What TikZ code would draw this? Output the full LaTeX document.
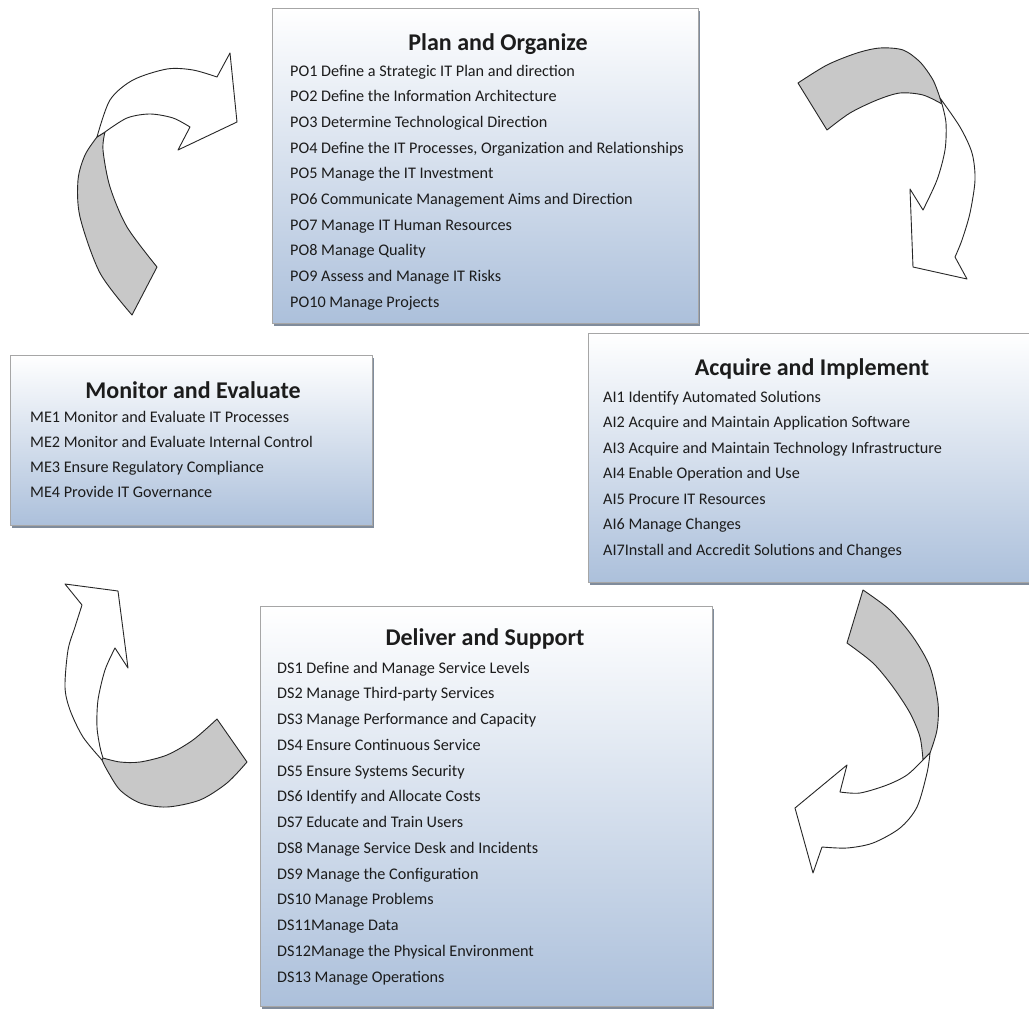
\documentclass[tikz,border=0pt]{standalone}
\usepackage{fontspec}
\setmainfont{Carlito}
\usetikzlibrary{shadows}
\definecolor{boxblue}{RGB}{172,192,219}
\definecolor{shadowc}{RGB}{128,140,156}
\definecolor{arrowgray}{RGB}{200,200,200}
\definecolor{txt}{RGB}{28,28,28}
\begin{document}
\begin{tikzpicture}[x=1pt,y=-1pt,
  box/.style={draw=gray!70, top color=white, bottom color=boxblue, inner sep=0pt, anchor=north west,
    drop shadow={shadow xshift=2pt, shadow yshift=-3pt, fill=shadowc, opacity=1}},
  boxtitle/.style={anchor=base, inner sep=0pt, text=txt, font=\fontsize{24}{28}\selectfont\bfseries},
  item/.style={anchor=base west, inner sep=0pt, text=txt, font=\fontsize{16.2}{19}\selectfont},
  arr/.style={draw=black!85, line width=0.9pt, line join=round},
  back/.style={arr, fill=arrowgray},
  front/.style={arr, fill=white}]
\useasboundingbox (0,0) rectangle (1029,1012);
\fill[white] (0,0) rectangle (1029,1012);

% ---------- boxes ----------
\node[box, minimum width=426pt, minimum height=315pt] (pobox) at (272,8) {};
\node[box, minimum width=443pt, minimum height=249pt] (aibox) at (588,333) {};
\node[box, minimum width=362pt, minimum height=170pt] (mebox) at (10,355) {};
\node[box, minimum width=452pt, minimum height=400pt] (dsbox) at (260,606) {};

% ---------- Plan and Organize ----------
\node[boxtitle] (potitle) at (498,50) {Plan and Organize};
\foreach \t [count=\i] in {
  PO1 Define a Strategic IT Plan and direction,
  PO2 Define the Information Architecture,
  PO3 Determine Technological Direction,
  {PO4 Define the IT Processes, Organization and Relationships},
  PO5 Manage the IT Investment,
  PO6 Communicate Management Aims and Direction,
  PO7 Manage IT Human Resources,
  PO8 Manage Quality,
  PO9 Assess and Manage IT Risks,
  PO10 Manage Projects}
  \node[item] (po\i) at (290,{76+25.67*(\i-1)}) {\t};

% ---------- Acquire and Implement ----------
\node[boxtitle] (aititle) at (812,375) {Acquire and Implement};
\foreach \t [count=\i] in {
  AI1 Identify Automated Solutions,
  AI2 Acquire and Maintain Application Software,
  AI3 Acquire and Maintain Technology Infrastructure,
  AI4 Enable Operation and Use,
  AI5 Procure IT Resources,
  AI6 Manage Changes,
  AI7Install and Accredit Solutions and Changes}
  \node[item] (ai\i) at (603,{402+25.5*(\i-1)}) {\t};

% ---------- Monitor and Evaluate ----------
\node[boxtitle] (metitle) at (193,398) {Monitor and Evaluate};
\foreach \t [count=\i] in {
  ME1 Monitor and Evaluate IT Processes,
  ME2 Monitor and Evaluate Internal Control,
  ME3 Ensure Regulatory Compliance,
  ME4 Provide IT Governance}
  \node[item] (me\i) at (30,{422+25.3*(\i-1)}) {\t};

% ---------- Deliver and Support ----------
\node[boxtitle] (dstitle) at (485,645) {Deliver and Support};
\foreach \t [count=\i] in {
  DS1 Define and Manage Service Levels,
  DS2 Manage Third-party Services,
  DS3 Manage Performance and Capacity,
  DS4 Ensure Continuous Service,
  DS5 Ensure Systems Security,
  DS6 Identify and Allocate Costs,
  DS7 Educate and Train Users,
  DS8 Manage Service Desk and Incidents,
  DS9 Manage the Configuration,
  DS10 Manage Problems,
  DS11Manage Data,
  DS12Manage the Physical Environment,
  DS13 Manage Operations}
  \node[item] (ds\i) at (277,{673+25.75*(\i-1)}) {\t};

% ---------- curved arrows ----------
% top left (Monitor -> Plan)
\draw[back] plot[smooth] coordinates {(132,315) (100,273) (80,217) (78,180) (85,155) (97,137)}
  -- plot[smooth] coordinates {(105,132) (103,150) (110,187) (127,227) (157,267)} -- cycle;
\draw[front] plot[smooth] coordinates {(97,137) (110,100) (133,80) (167,69) (193,70) (217,77)}
  -- (230,53) -- (237,122) -- (178,150) --
  plot[smooth] coordinates {(190,127) (173,118) (150,114) (127,118) (105,132)} -- cycle;

% top right (Plan -> Acquire)
\draw[back] plot[smooth] coordinates {(798,83) (827,65) (857,53) (880,48) (903,50) (920,62) (933,80) (940,98)}
  -- plot[smooth] coordinates {(942,104) (923,95) (900,93) (877,100) (850,113) (827,130)} -- cycle;
\draw[front] plot[smooth] coordinates {(940,98) (960,127) (972,153) (975,180) (970,213) (962,240) (955,257)}
  -- (967,279) -- (913,267) -- (910,189) --
  plot[smooth] coordinates {(923,210) (937,180) (945,150) (946,123) (942,104)} -- cycle;

% bottom right (Acquire -> Deliver)
\draw[back] plot[smooth] coordinates {(863,590) (890,610) (913,637) (930,667) (938,703) (937,730) (930,753)}
  -- plot[smooth] coordinates {(923,760) (920,737) (910,713) (893,687) (873,663) (847,643)} -- cycle;
\draw[front] plot[smooth] coordinates {(930,753) (927,773) (917,807) (900,828) (873,843) (847,848) (822,847)}
  -- (813,873) -- (795,808) -- (847,765) --
  plot[smooth] coordinates {(840,792) (860,793) (887,785) (907,775) (923,760)} -- cycle;

% bottom left (Deliver -> Monitor)
\draw[back] plot[smooth] coordinates {(247,762) (227,783) (200,800) (167,807) (140,803) (120,790) (107,770) (102,760)}
  -- plot[smooth] coordinates {(103,758) (120,762) (140,762) (167,755) (193,740) (217,719)} -- cycle;
\draw[front] plot[smooth] coordinates {(102,760) (83,737) (70,710) (65,687) (68,650) (75,627) (82,605)}
  -- (65,584) -- (118,591) -- (128,668) --
  plot[smooth] coordinates {(115,648) (105,670) (98,700) (97,727) (100,747) (103,758)} -- cycle;
\end{tikzpicture}
\end{document}
